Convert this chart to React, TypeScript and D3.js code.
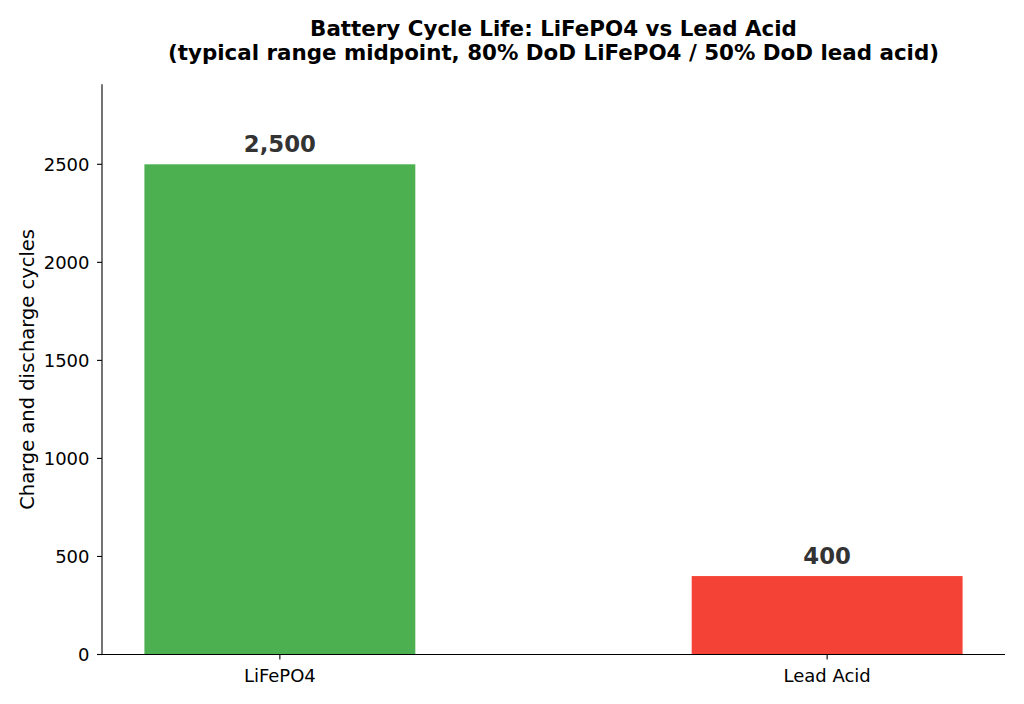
import React from "react";
import { scaleLinear, format } from "d3";

const categories = ["LiFePO4", "Lead Acid"];
const cycles = [2500, 400];
const barColors = ["#4CAF50", "#F44336"];
const yTicks = [0, 500, 1000, 1500, 2000, 2500];

const W = 1024;
const H = 704;
const left = 102;
const right = 1005;
const top = 84.3;
const bottom = 654.5;
const font = "'DejaVu Sans', sans-serif";

// matplotlib-like x range: bars of width 0.5 at 0 and 1, plus 5% margin
const x = scaleLinear().domain([-0.325, 1.325]).range([left, right]);
const y = scaleLinear().domain([0, 2908]).range([bottom, top]);
const barW = 0.495;

export default function App() {
  return (
    <svg
      width={W}
      height={H}
      style={{ position: "absolute", left: 0, top: 0, background: "#fff" }}
      fontFamily={font}
    >
      <text x={553.5} y={35.5} textAnchor="middle" fontSize={21.4} fontWeight="bold">
        Battery Cycle Life: LiFePO4 vs Lead Acid
      </text>
      <text x={553.5} y={60} textAnchor="middle" fontSize={21.4} fontWeight="bold">
        (typical range midpoint, 80% DoD LiFePO4 / 50% DoD lead acid)
      </text>

      {categories.map((c, i) => (
        <g key={c}>
          <rect
            x={x(i - barW / 2)}
            y={y(cycles[i])}
            width={x(i + barW / 2) - x(i - barW / 2)}
            height={y(0) - y(cycles[i])}
            fill={barColors[i]}
          />
          <text
            x={x(i)}
            y={y(cycles[i]) - 12}
            textAnchor="middle"
            fontSize={22.8}
            fontWeight="bold"
            fill="#333"
          >
            {format(",")(cycles[i])}
          </text>
          <line x1={x(i)} x2={x(i)} y1={bottom} y2={bottom + 5} stroke="#000" strokeWidth={1.1} />
          <text x={x(i)} y={bottom + 27} textAnchor="middle" fontSize={18}>
            {c}
          </text>
        </g>
      ))}

      {yTicks.map((t) => (
        <g key={t}>
          <line x1={left - 5} x2={left} y1={y(t)} y2={y(t)} stroke="#000" strokeWidth={1.1} />
          <text x={left - 12.5} y={y(t) + 6.5} textAnchor="end" fontSize={18}>
            {t}
          </text>
        </g>
      ))}

      <line x1={left} x2={left} y1={top} y2={bottom} stroke="#000" strokeWidth={1.1} />
      <line x1={left} x2={right} y1={bottom} y2={bottom} stroke="#000" strokeWidth={1.1} />

      <text
        transform={`translate(34,${(top + bottom) / 2}) rotate(-90)`}
        textAnchor="middle"
        fontSize={19.5}
      >
        Charge and discharge cycles
      </text>
    </svg>
  );
}
